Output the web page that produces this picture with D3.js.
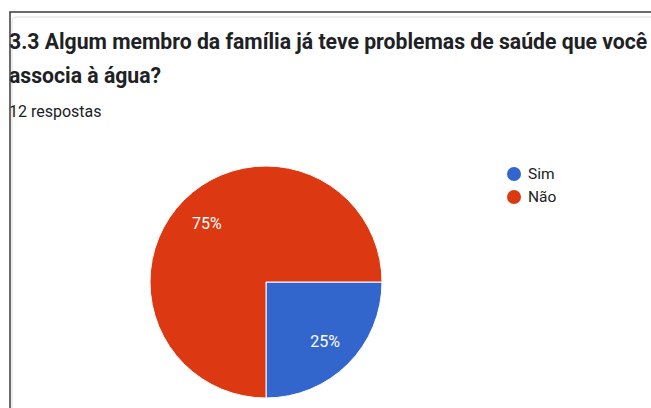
<!DOCTYPE html>
<html>
<head>
<meta charset="utf-8">
<script src="https://cdn.jsdelivr.net/npm/d3@7"></script>
<style>
  body { margin: 0; background: #fff; }
  svg { display: block; font-family: Roboto, Arial, sans-serif; }
</style>
</head>
<body>
<div id="chart"></div>
<script>
let titleLines = [
  '3.3 Algum membro da família já teve problemas de saúde que você',
  'associa à água?'
]
let subtitle = '12 respostas'
let categories = ['Sim', 'Não']
let values = [3, 9]
let colors = ['#3366cc', '#dc3912']

let width = 651
let height = 408

let svg = d3
  .select('#chart')
  .append('svg')
  .attr('width', width)
  .attr('height', height)

// card inner border (light)
svg
  .append('path')
  .attr('d', 'M12,' + (height) + ' L12,22 Q12,17 17,17 L' + width + ',17')
  .attr('fill', 'none')
  .attr('stroke', '#dadce0')
  .attr('stroke-width', 1)

// title
svg
  .selectAll('.title')
  .data(titleLines)
  .enter()
  .append('text')
  .attr('class', 'title')
  .attr('x', 9)
  .attr('y', (d, i) => 49 + i * 34)
  .attr('font-size', 21.2)
  .attr('font-weight', 'bold')
  .attr('fill', '#202124')
  .text(d => d)

svg
  .append('text')
  .attr('x', 9)
  .attr('y', 117)
  .attr('font-size', 16)
  .attr('fill', '#202124')
  .text(subtitle)

// outer dark border
svg
  .append('path')
  .attr('d', 'M10,' + height + ' L10,12 L' + width + ',12')
  .attr('fill', 'none')
  .attr('stroke', '#3c3c3c')
  .attr('stroke-width', 1.5)

let cx = 266
let cy = 282
let radius = 116

let pie = d3
  .pie()
  .sort(null)
  .startAngle(Math.PI / 2)
  .endAngle(Math.PI / 2 + 2 * Math.PI)

let arc = d3.arc().innerRadius(0).outerRadius(radius)
let labelArc = d3.arc().innerRadius(radius * 0.72).outerRadius(radius * 0.72)

let colorScale = d3.scaleOrdinal().domain(categories).range(colors)

let pieData = pie(values).map((d, i) => Object.assign(d, { key: categories[i] }))

let g = svg.append('g').attr('transform', 'translate(' + cx + ',' + cy + ')')

g.selectAll('.slice')
  .data(pieData)
  .enter()
  .append('path')
  .attr('class', 'slice')
  .attr('d', arc)
  .attr('fill', d => colorScale(d.key))
  .attr('stroke', '#fff')
  .attr('stroke-width', 1)

let total = d3.sum(values)
g.selectAll('.pct')
  .data(pieData)
  .enter()
  .append('text')
  .attr('class', 'pct')
  .attr('transform', d => 'translate(' + labelArc.centroid(d) + ')')
  .attr('text-anchor', 'middle')
  .attr('dy', '0.35em')
  .attr('font-size', 16)
  .attr('fill', '#fff')
  .text(d => Math.round((d.value / total) * 100) + '%')

// legend
let legend = svg
  .selectAll('.legend')
  .data(categories)
  .enter()
  .append('g')
  .attr('class', 'legend')
  .attr('transform', (d, i) => 'translate(514,' + (174 + i * 23) + ')')

legend
  .append('circle')
  .attr('r', 7)
  .attr('fill', d => colorScale(d))

legend
  .append('text')
  .attr('x', 14)
  .attr('dy', '0.35em')
  .attr('font-size', 15.5)
  .attr('fill', '#222')
  .text(d => d)
</script>
</body>
</html>
